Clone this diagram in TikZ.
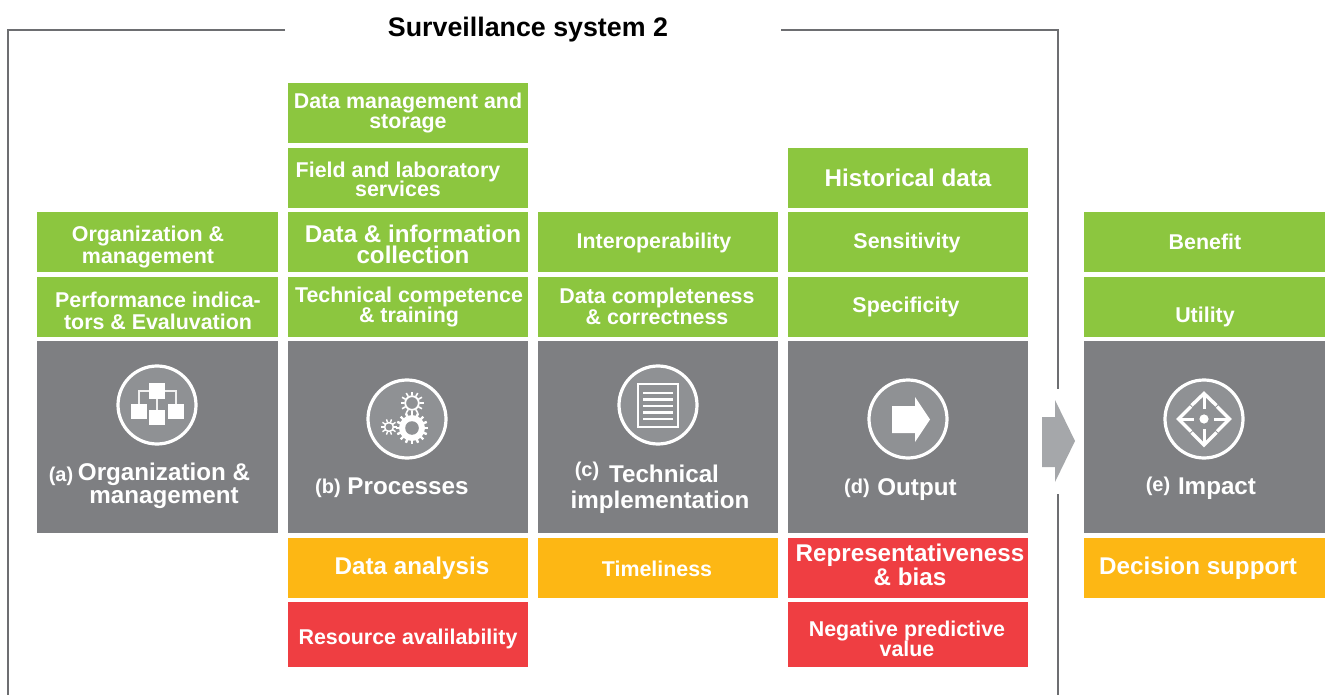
\documentclass[tikz,border=0pt]{standalone}
\usepackage{fontspec}
\setmainfont{Liberation Sans}
\definecolor{gn}{HTML}{8CC63F}
\definecolor{og}{HTML}{FDB714}
\definecolor{rd}{HTML}{EF3E42}
\definecolor{gy}{HTML}{7E7F82}
\definecolor{ic}{HTML}{8F9194}
\definecolor{fr}{HTML}{6D6E71}
\definecolor{ar}{HTML}{A5A7AA}
\tikzset{
  bx/.style={rectangle,inner sep=0pt,minimum width=240,anchor=north west},
  gnb/.style={bx,fill=gn,minimum height=60},
  ogb/.style={bx,fill=og,minimum height=60},
  rdb/.style={bx,fill=rd,minimum height=65},
  gyb/.style={bx,fill=gy,minimum height=192},
  tx/.style={text=white,font=\bfseries\fontsize{#1}{#1}\selectfont,align=center,inner sep=0pt,anchor=center},
  tx/.default=21.4,
  two/.style={text=white,font=\bfseries\fontsize{#1}{21}\selectfont,align=center,inner sep=0pt,anchor=center},
  ring/.style={circle,draw=white,fill=ic,line width=3.2,minimum size=78,inner sep=0pt},
  frame/.style={draw=fr,line width=1.2},
  ico/.style={draw=white!88!gray,line width=2.4},
  cmp/.style={draw=white,line width=3.4,line join=miter}
}
\begin{document}
\begin{tikzpicture}[x=1pt,y=-1pt]
\useasboundingbox (0,0) rectangle (1326,695);
% frame
\coordinate (f1) at (285,30); \coordinate (f2) at (8,30); \coordinate (f3) at (8,695);
\coordinate (f4) at (781,30); \coordinate (f5) at (1058,30); \coordinate (f6) at (1058,389);
\coordinate (f7) at (1058,494); \coordinate (f8) at (1058,695);
\draw[frame] (f1) -- (f2) -- (f3);
\draw[frame] (f4) -- (f5) -- (f6);
\draw[frame] (f7) -- (f8);
\draw[draw=fr!25,line width=1] (f3) -- (f8);
\node[text=black,font=\bfseries\fontsize{26.8}{26.8}\selectfont,inner sep=0pt] (title) at (528,30) {Surveillance system 2};
% column a
\node[gnb,minimum width=241] (a1) at (37,212) {};
\node[gnb,minimum width=241] (a2) at (37,277) {};
\node[gyb,minimum width=241] (a3) at (37,341) {};
% column b
\node[gnb] (b1) at (288,83) {};
\node[gnb] (b2) at (288,148) {};
\node[gnb] (b3) at (288,212) {};
\node[gnb] (b4) at (288,277) {};
\node[gyb] (b5) at (288,341) {};
\node[ogb] (b6) at (288,538) {};
\node[rdb] (b7) at (288,602) {};
% column c
\node[gnb] (c1) at (538,212) {};
\node[gnb] (c2) at (538,277) {};
\node[gyb] (c3) at (538,341) {};
\node[ogb] (c4) at (538,538) {};
% column d
\node[gnb] (d1) at (788,148) {};
\node[gnb] (d2) at (788,212) {};
\node[gnb] (d3) at (788,277) {};
\node[gyb] (d4) at (788,341) {};
\node[rdb,minimum height=60] (d5) at (788,538) {};
\node[rdb] (d6) at (788,602) {};
% column e
\node[gnb,minimum width=241] (e1) at (1084,212) {};
\node[gnb,minimum width=241] (e2) at (1084,277) {};
\node[gyb,minimum width=241] (e3) at (1084,341) {};
\node[ogb,minimum width=241] (e4) at (1084,538) {};
% texts
\node[two=21.4] (ta1) at (148,247) {Organization \&\\[1pt]management};
\node[two=21.4] (ta2) at (158,311) {Performance indica-\\[1pt]tors \& Evaluvation};
\node[two=21.4] (tb1) at (408,113) {Data management and\\[-1pt]storage};
\node[two=21.4] (tb2) at (398,179) {Field and laboratory\\[-2pt]services};
\node[two=24.2] (tb3) at (413,244) {Data \& information\\collection};
\node[two=21.4] (tb4) at (409,307) {Technical competence\\[-1pt]\& training};
\node[tx=24.2] (tb6) at (412,568) {Data analysis};
\node[tx] (tb7) at (408,639) {Resource avalilability};
\node[tx] (tc1) at (654,243) {Interoperability};
\node[two=21.4] (tc2) at (657,306) {Data completeness\\\& correctness};
\node[tx] (tc4) at (657,569) {Timeliness};
\node[tx=24.2] (td1) at (908,178) {Historical data};
\node[tx] (td2) at (907,243) {Sensitivity};
\node[tx] (td3) at (906,307) {Specificity};
\node[two=24.2] (td5) at (910,565) {Representativeness\\\& bias};
\node[two=21.4] (td6) at (907,639) {Negative predictive\\[-1pt]value};
\node[tx] (te1) at (1205,242) {Benefit};
\node[tx] (te2) at (1205,317) {Utility};
\node[tx=24.2] (te4) at (1198,568) {Decision support};
% grey panel captions
\node[two=24.2] (pa) at (164,486) {Organization \&\\[2pt]management};
\node[tx=20] (pal) at (61,476) {(a)};
\node[tx=24.2] (pb) at (408,486) {Processes};
\node[tx=20] (pbl) at (328,488) {(b)};
\node[tx=24.2] (pc1) at (664,474) {Technical};
\node[tx=24.2] (pc2) at (660,502) {implementation};
\node[tx=20] (pcl) at (587,471) {(c)};
\node[tx=24.2] (pd) at (917,490) {Output};
\node[tx=20] (pdl) at (857,488) {(d)};
\node[tx=24.2] (pe) at (1217,489) {Impact};
\node[tx=20] (pel) at (1158,486) {(e)};
% icons
\node[ring] (ia) at (157,405) {};
\node[ring] (ib) at (407,419) {};
\node[ring] (ic) at (658,405) {};
\node[ring] (id) at (908,419) {};
\node[ring] (ie) at (1204,419) {};
% icon a
\draw[ico] (149,391) -- (139,391) -- (139,404);
\draw[ico] (165,391) -- (176,391) -- (176,404);
\draw[ico] (157,399) -- (157,411);
\fill[white] (149,383) rectangle (165,399);
\fill[white] (131,404) rectangle (147,419);
\fill[white] (168,404) rectangle (183.5,419);
\fill[white] (149,410) rectangle (165,425);
% icon b: gears
\foreach \a in {0,22.5,...,337.5}{
  \draw[white,line width=2.4] (412,428) -- ++(\a:16);
}
\fill[white] (412,428) circle (13);
\fill[ic] (412,428) circle (6.8);
\foreach \a in {0,30,...,330}{
  \draw[white,line width=1.6] (412,403) -- ++(\a:11.5);
}
\fill[ic] (412,403) circle (7.5);
\draw[white,line width=1.8] (412,403) circle (6.8);
\fill[ic] (412,403) circle (5.2);
\foreach \a in {0,36,...,324}{
  \draw[white,line width=1.4] (389,427) -- ++(\a:8);
}
\fill[ic] (389,427) circle (4.8);
\draw[white,line width=1.5] (389,427) circle (4.4);
\fill[ic] (389,427) circle (3.2);
% icon c: document
\draw[white,line width=2.8] (638,384) rectangle (678,427);
\foreach \y in {393,399.5,406,412.5,419}{
  \draw[white,line width=2.4] (643,\y) -- (673,\y);
}
% icon d: arrow
\fill[white] (892,406) -- (915,406) -- (915,397) -- (930,419.5) -- (915,442) -- (915,433) -- (892,433) -- cycle;
% icon e: compass
\fill[white] (1204,419) circle (4.6);
\draw[cmp] (1191.5,405.5) -- (1204,393.5) -- (1216.5,405.5);
\draw[cmp] (1191.5,432.5) -- (1204,445) -- (1216.5,432.5);
\draw[cmp] (1191,406.5) -- (1178.5,419) -- (1191,431.5);
\draw[cmp] (1217,406.5) -- (1229.5,419) -- (1217,431.5);
\draw[white,line width=3] (1204,394) -- (1204,409);
\draw[white,line width=3] (1204,429) -- (1204,444);
\draw[white,line width=3] (1179,419) -- (1194,419);
\draw[white,line width=3] (1214,419) -- (1229,419);
% big arrow
\fill[ar] (1042,417) -- (1055,417) -- (1055,400) -- (1075,441) -- (1055,482) -- (1055,467) -- (1042,467) -- cycle;
\end{tikzpicture}
\end{document}
